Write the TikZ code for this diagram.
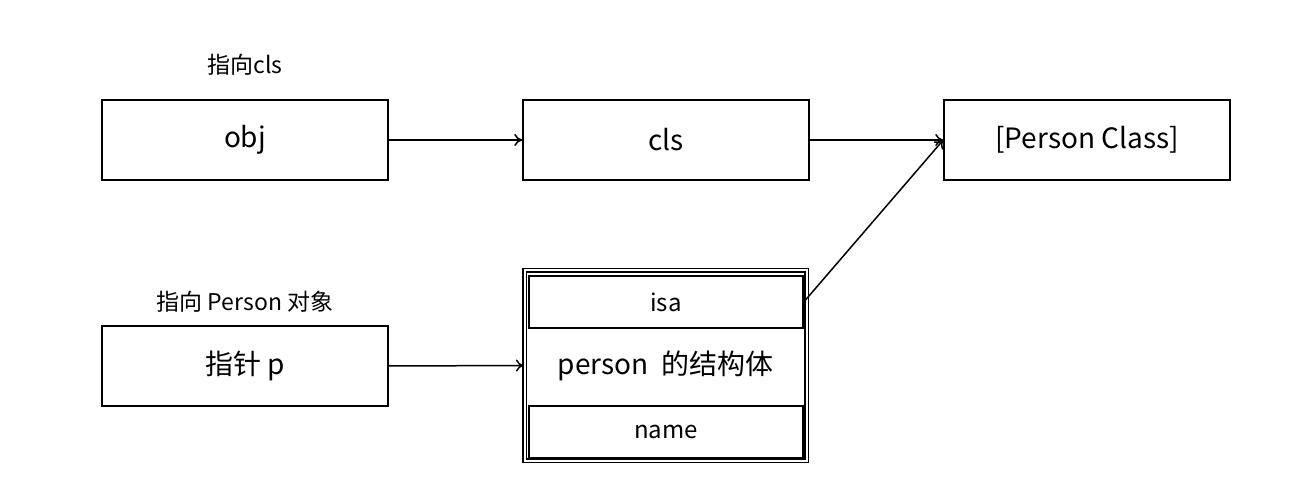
\documentclass[tikz,border=0pt]{standalone}
\usepackage{fontspec}
\setmainfont{Noto Sans CJK SC}
\usetikzlibrary{arrows.meta}
\begin{document}
\begin{tikzpicture}[x=1pt,y=-1pt,
  box/.style={draw,line width=1.5pt,minimum width=286pt,minimum height=80pt,inner sep=0pt,font=\fontsize{28}{32}\selectfont},
  fld/.style={draw,line width=1.5pt,minimum width=274pt,minimum height=52pt,inner sep=0pt,font=\fontsize{24}{28}\selectfont},
  lbl/.style={font=\fontsize{23}{27}\selectfont,inner sep=0pt},
  arr/.style={-{To[length=8pt,width=12pt]},line width=1.5pt}]
\useasboundingbox (0,0) rectangle (1314,502);
\node[box] (obj) at (245,140) {obj};
\node[box] (cls) at (666,140) {cls};
\node[box] (pc) at (1087,140) {[Person Class]};
\node[box] (p) at (245,366) {指针 p};
\node[draw,line width=1.3pt,minimum width=282pt,minimum height=190pt,double,double distance=2pt,inner sep=0pt] (st) at (665.5,365.5) {};
\node[font=\fontsize{28}{32}\selectfont] (stl) at (665.5,366) {person\ \ 的结构体};
\node[fld] (isa) at (666,302) {isa};
\node[fld] (name) at (666,432) {name};
\node[lbl] (l1) at (245,65) {指向cls};
\node[lbl] (l2) at (245,302) {指向 Person 对象};
\draw[arr] (obj.east) -- (cls.west);
\draw[arr] (cls.east) -- (pc.west);
\draw[arr] (p.east) -- (st.west);
\draw[arr] (isa.east) -- (pc.west);
\end{tikzpicture}
\end{document}
